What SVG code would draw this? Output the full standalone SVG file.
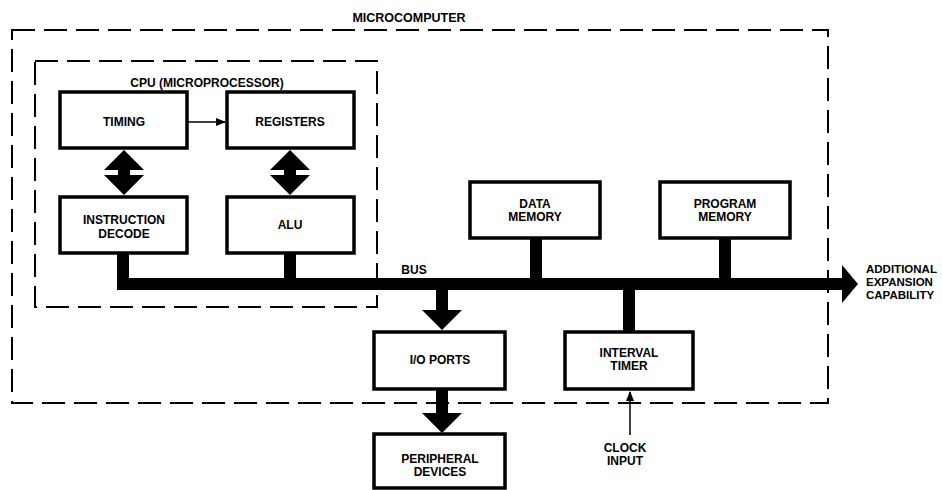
<svg xmlns="http://www.w3.org/2000/svg" width="942" height="490" viewBox="0 0 942 490">
<style>
text{font-family:"Liberation Sans",Arial,sans-serif;font-weight:bold;font-size:12px;fill:#000;text-anchor:middle}
.box{fill:#fff;stroke:#000;stroke-width:3.5}
.dash{fill:none;stroke:#000;stroke-width:2;stroke-dasharray:23 9}
.bar{fill:#000}
.left{text-anchor:start;font-size:11.5px}
</style>
<defs>
<marker id="ah" markerWidth="10" markerHeight="8" refX="9" refY="4" orient="auto" markerUnits="userSpaceOnUse">
<path d="M0,0 L10,4 L0,8 Z" fill="#000"/>
</marker>
</defs>
<g id="microcomputer">
<rect class="dash" x="12" y="30" width="816" height="373"/>
<text x="409" y="22" style="font-size:12.5px">MICROCOMPUTER</text>
</g>
<g id="cpu">
<rect class="dash" x="35" y="61" width="342" height="246"/>
<text x="207" y="87">CPU (MICROPROCESSOR)</text>
</g>
<g id="connectors">
<line x1="188" y1="122" x2="225" y2="122" stroke="#000" stroke-width="1.5" marker-end="url(#ah)"/>
<path class="bar" d="M124,150 L144,170 L130,170 L130,175 L144,175 L124,195 L104,175 L118,175 L118,170 L104,170 Z"/>
<path class="bar" d="M290,150 L310,170 L296,170 L296,175 L310,175 L290,195 L270,175 L284,175 L284,170 L270,170 Z"/>
<rect class="bar" x="117" y="252" width="12" height="38"/>
<rect class="bar" x="284" y="252" width="12" height="30"/>
<rect class="bar" x="530" y="237" width="12" height="45"/>
<rect class="bar" x="719" y="237" width="12" height="45"/>
<path class="bar" d="M117,278 L842,278 L842,265 L858,284 L842,303 L842,290 L117,290 Z"/>
<rect class="bar" x="623" y="286" width="12" height="48"/>
<path class="bar" d="M436,288 L448,288 L448,310 L462,310 L442,330 L422,310 L436,310 Z"/>
<path class="bar" d="M436,388 L448,388 L448,413 L462,413 L442,433 L422,413 L436,413 Z"/>
<line x1="630" y1="435" x2="630" y2="392" stroke="#000" stroke-width="1.5" marker-end="url(#ah)"/>
<text x="414" y="274">BUS</text>
</g>
<g id="timing"><rect class="box" x="60" y="92" width="127" height="56"/><text x="124" y="126">TIMING</text></g>
<g id="registers"><rect class="box" x="227" y="92" width="127" height="56"/><text x="290" y="126">REGISTERS</text></g>
<g id="instruction-decode"><rect class="box" x="60" y="197" width="127" height="56"/><text x="124" y="224">INSTRUCTION</text><text x="124" y="238">DECODE</text></g>
<g id="alu"><rect class="box" x="227" y="197" width="127" height="56"/><text x="290" y="229">ALU</text></g>
<g id="data-memory"><rect class="box" x="470" y="182" width="130" height="56"/><text x="535" y="208">DATA</text><text x="535" y="221">MEMORY</text></g>
<g id="program-memory"><rect class="box" x="660" y="182" width="130" height="56"/><text x="725" y="208">PROGRAM</text><text x="725" y="221">MEMORY</text></g>
<g id="io-ports"><rect class="box" x="374" y="332" width="131" height="57"/><text x="440" y="364">I/O PORTS</text></g>
<g id="interval-timer"><rect class="box" x="565" y="332" width="128" height="57"/><text x="629" y="357">INTERVAL</text><text x="629" y="370">TIMER</text></g>
<g id="peripheral-devices"><rect class="box" x="374" y="434" width="131" height="54"/><text x="440" y="463">PERIPHERAL</text><text x="440" y="476">DEVICES</text></g>
<g id="clock-input"><text x="625" y="452">CLOCK</text><text x="625" y="465">INPUT</text></g>
<g id="expansion"><text class="left" x="866" y="273">ADDITIONAL</text><text class="left" x="866" y="286">EXPANSION</text><text class="left" x="866" y="299">CAPABILITY</text></g>
</svg>
